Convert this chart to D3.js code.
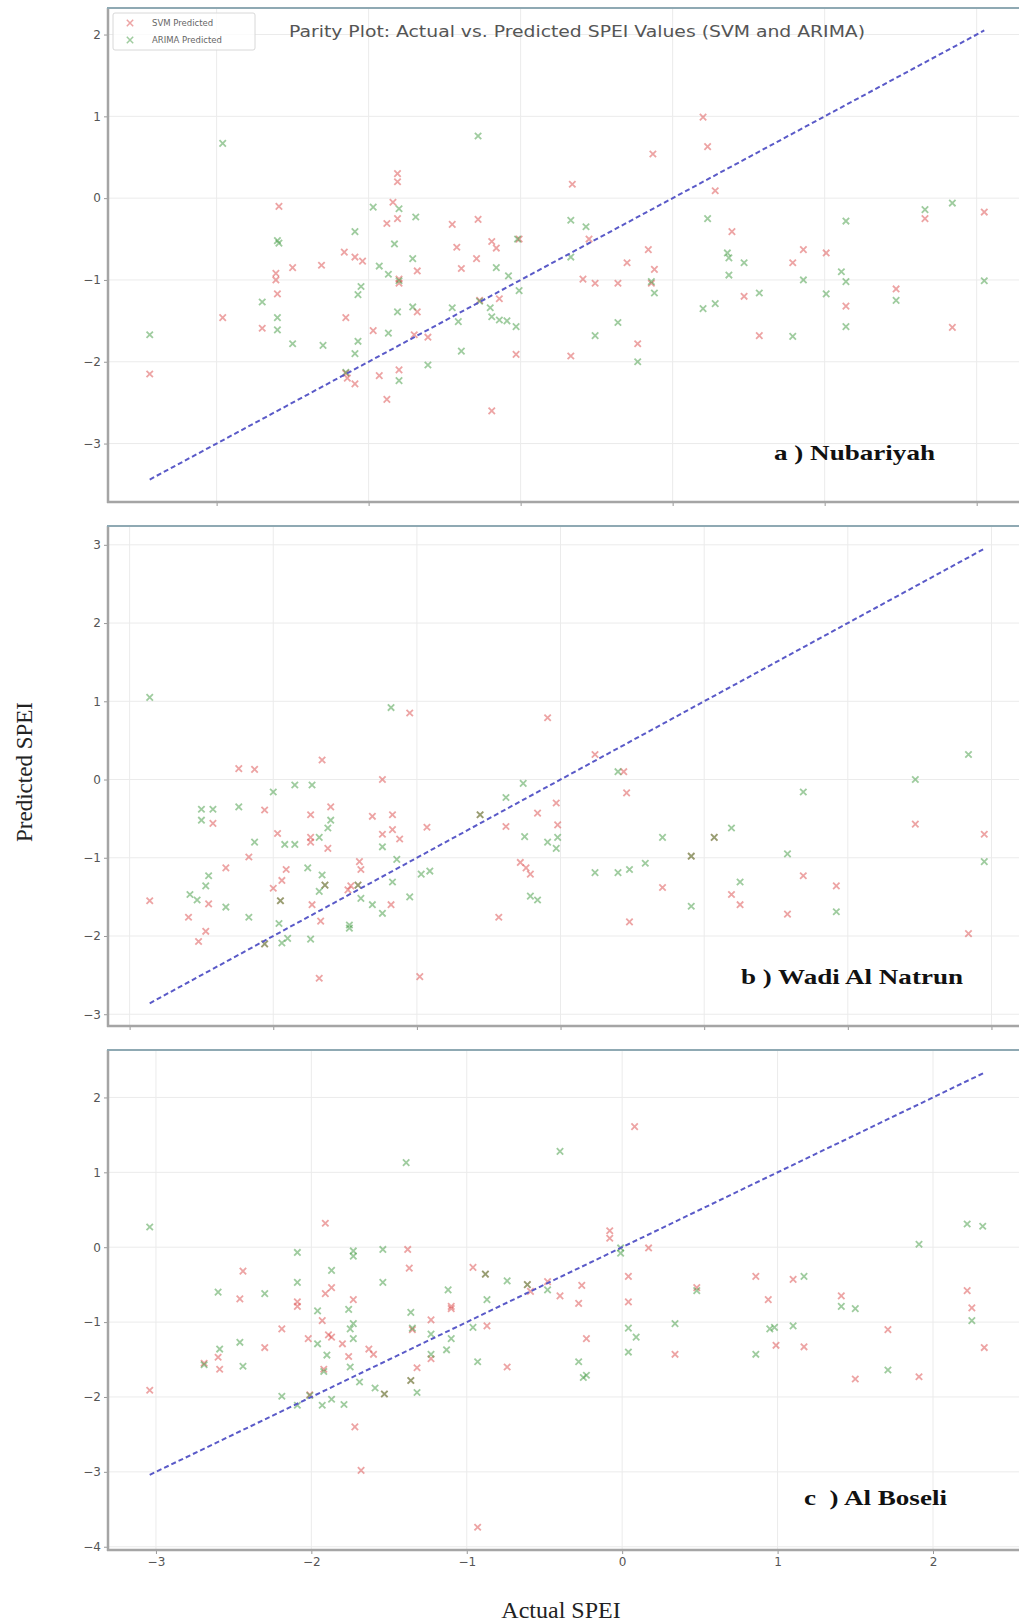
<!DOCTYPE html>
<html>
<head>
<meta charset="utf-8">
<style>
    body { margin: 0; background: #fff; }
    .tick text { font: 12px "DejaVu Sans", sans-serif; fill: #555; }
    .tick line { stroke: #999; }
    .grid line { stroke: #ebebeb; stroke-width: 1; }
    .title { font: 16px "DejaVu Sans", sans-serif; fill: #555; }
    .legend text { font: 8.5px "DejaVu Sans", sans-serif; fill: #666; }
    .station { font: bold 22px "Liberation Serif", "Times New Roman", serif; fill: #111; white-space: pre; }
    .axis-title { font: 23px "Liberation Serif", "Times New Roman", serif; fill: #222; }
</style>
<script src="https://d3js.org/d3.v7.min.js"></script>
</head>
<body>
<script>

// [actual SPEI, predicted SPEI]
var svmNub = [[-3.44,-2.15],[-2.96,-1.46],[-2.70,-1.59],[-2.59,-0.10],[-2.61,-0.92],[-2.61,-1.00],[-2.60,-1.17],[-2.50,-0.85],[-2.31,-0.82],[-2.16,-0.66],[-2.15,-1.46],[-2.15,-2.14],[-2.14,-2.20],[-2.09,-0.72],[-2.09,-2.27],[-2.04,-0.77],[-1.97,-1.62],[-1.93,-2.17],[-1.88,-0.31],[-1.88,-2.46],[-1.84,-0.05],[-1.81,0.30],[-1.81,0.20],[-1.81,-0.25],[-1.80,-0.99],[-1.80,-1.04],[-1.80,-2.10],[-1.68,-0.89],[-1.68,-1.39],[-1.70,-1.67],[-1.61,-1.70],[-1.45,-0.32],[-1.42,-0.60],[-1.39,-0.86],[-1.28,-0.26],[-1.29,-0.74],[-1.27,-1.25],[-1.19,-0.53],[-1.16,-0.61],[-1.14,-1.23],[-1.19,-2.60],[-1.01,-0.50],[-1.03,-1.91],[-0.66,0.17],[-0.67,-1.93],[-0.55,-0.50],[-0.59,-0.99],[-0.51,-1.04],[-0.36,-1.04],[-0.30,-0.79],[-0.23,-1.78],[-0.16,-0.63],[-0.12,-0.87],[-0.13,0.54],[-0.14,-1.04],[0.20,0.99],[0.23,0.63],[0.28,0.09],[0.39,-0.41],[0.47,-1.20],[0.57,-1.68],[0.79,-0.79],[0.86,-0.63],[1.01,-0.67],[1.14,-1.32],[1.47,-1.11],[1.66,-0.25],[1.84,-1.58],[2.05,-0.17]];
var arimaNub = [[-3.44,-1.67],[-2.96,0.67],[-2.70,-1.27],[-2.60,-0.52],[-2.59,-0.55],[-2.60,-1.46],[-2.60,-1.61],[-2.50,-1.78],[-2.30,-1.80],[-2.15,-2.13],[-2.09,-0.41],[-2.05,-1.08],[-2.07,-1.18],[-2.07,-1.75],[-2.09,-1.90],[-1.97,-0.11],[-1.93,-0.83],[-1.87,-0.93],[-1.87,-1.65],[-1.83,-0.56],[-1.80,-0.13],[-1.81,-1.39],[-1.80,-2.23],[-1.80,-1.01],[-1.69,-0.23],[-1.71,-0.74],[-1.71,-1.33],[-1.61,-2.04],[-1.45,-1.34],[-1.41,-1.51],[-1.39,-1.87],[-1.28,0.76],[-1.27,-1.26],[-1.16,-0.85],[-1.20,-1.34],[-1.19,-1.45],[-1.14,-1.49],[-1.08,-0.95],[-1.09,-1.50],[-1.02,-0.50],[-1.01,-1.13],[-1.03,-1.57],[-0.67,-0.27],[-0.67,-0.72],[-0.57,-0.35],[-0.51,-1.68],[-0.36,-1.52],[-0.23,-2.00],[-0.12,-1.16],[-0.14,-1.02],[0.20,-1.35],[0.23,-0.25],[0.28,-1.29],[0.36,-0.67],[0.37,-0.73],[0.37,-0.94],[0.47,-0.79],[0.57,-1.16],[0.79,-1.69],[0.86,-1.00],[1.01,-1.17],[1.14,-0.28],[1.11,-0.90],[1.14,-1.02],[1.14,-1.57],[1.47,-1.25],[1.66,-0.14],[1.84,-0.06],[2.05,-1.01]];

var svmWadi = [[-2.86,-1.55],[-2.59,-1.76],[-2.52,-2.07],[-2.47,-1.94],[-2.45,-1.59],[-2.42,-0.56],[-2.33,-1.13],[-2.24,0.14],[-2.13,0.13],[-2.17,-0.99],[-2.06,-0.39],[-2.06,-2.10],[-2.00,-1.39],[-1.97,-0.69],[-1.94,-1.29],[-1.91,-1.15],[-1.95,-1.55],[-1.74,-0.45],[-1.74,-0.74],[-1.74,-0.80],[-1.73,-1.60],[-1.68,-2.54],[-1.67,-1.81],[-1.66,0.25],[-1.64,-1.35],[-1.62,-0.88],[-1.60,-0.35],[-1.48,-1.41],[-1.46,-1.36],[-1.41,-1.35],[-1.40,-1.05],[-1.39,-1.15],[-1.31,-0.47],[-1.24,0.00],[-1.24,-0.70],[-1.18,-1.60],[-1.17,-0.45],[-1.17,-0.64],[-1.12,-0.76],[-1.05,0.85],[-0.98,-2.52],[-0.93,-0.61],[-0.56,-0.45],[-0.43,-1.76],[-0.38,-0.60],[-0.28,-1.06],[-0.24,-1.13],[-0.21,-1.21],[-0.16,-0.43],[-0.09,0.79],[-0.03,-0.30],[-0.02,-0.58],[0.24,0.32],[0.44,0.10],[0.46,-0.17],[0.48,-1.82],[0.71,-1.38],[0.91,-0.98],[1.07,-0.74],[1.19,-1.47],[1.25,-1.60],[1.58,-1.72],[1.69,-1.23],[1.92,-1.36],[2.47,-0.57],[2.84,-1.97],[2.95,-0.70]];
var arimaWadi = [[-2.86,1.05],[-2.58,-1.47],[-2.53,-1.54],[-2.50,-0.38],[-2.50,-0.52],[-2.42,-0.38],[-2.45,-1.23],[-2.47,-1.36],[-2.33,-1.63],[-2.24,-0.35],[-2.17,-1.76],[-2.13,-0.80],[-2.06,-2.10],[-2.00,-0.16],[-1.96,-1.84],[-1.95,-1.55],[-1.94,-2.09],[-1.92,-0.83],[-1.90,-2.03],[-1.85,-0.07],[-1.85,-0.83],[-1.76,-1.13],[-1.74,-2.04],[-1.73,-0.07],[-1.68,-0.74],[-1.68,-1.43],[-1.66,-1.22],[-1.64,-1.35],[-1.62,-0.62],[-1.60,-0.52],[-1.47,-1.86],[-1.47,-1.90],[-1.41,-1.35],[-1.39,-1.52],[-1.31,-1.60],[-1.24,-0.86],[-1.24,-1.71],[-1.18,0.92],[-1.17,-1.31],[-1.14,-1.02],[-1.05,-1.50],[-0.97,-1.21],[-0.91,-1.17],[-0.56,-0.45],[-0.38,-0.23],[-0.26,-0.05],[-0.25,-0.73],[-0.21,-1.49],[-0.16,-1.54],[-0.09,-0.80],[-0.03,-0.88],[-0.02,-0.74],[0.24,-1.19],[0.40,0.10],[0.40,-1.19],[0.48,-1.15],[0.59,-1.07],[0.71,-0.74],[0.91,-0.98],[0.91,-1.62],[1.07,-0.74],[1.19,-0.62],[1.25,-1.31],[1.58,-0.95],[1.69,-0.16],[1.92,-1.69],[2.47,0.00],[2.84,0.32],[2.95,-1.05]];

var svmBoseli = [[-3.04,-1.91],[-2.69,-1.55],[-2.60,-1.47],[-2.59,-1.63],[-2.46,-0.69],[-2.44,-0.32],[-2.30,-1.34],[-2.19,-1.09],[-2.09,-0.73],[-2.09,-0.79],[-2.02,-1.22],[-2.01,-1.97],[-1.93,-0.98],[-1.91,0.32],[-1.91,-0.62],[-1.87,-0.54],[-1.89,-1.17],[-1.87,-1.20],[-1.92,-1.63],[-1.80,-1.29],[-1.76,-1.46],[-1.73,-0.70],[-1.72,-2.40],[-1.68,-2.98],[-1.60,-1.43],[-1.63,-1.36],[-1.53,-1.96],[-1.38,-0.03],[-1.37,-0.28],[-1.36,-1.78],[-1.35,-1.10],[-1.32,-1.61],[-1.23,-0.97],[-1.23,-1.49],[-1.10,-0.79],[-1.10,-0.82],[-0.96,-0.27],[-0.93,-3.74],[-0.88,-0.36],[-0.87,-1.05],[-0.74,-1.60],[-0.61,-0.50],[-0.59,-0.59],[-0.48,-0.46],[-0.40,-0.65],[-0.26,-0.51],[-0.28,-0.75],[-0.23,-1.22],[-0.08,0.22],[-0.08,0.12],[0.04,-0.39],[0.04,-0.73],[0.08,1.61],[0.17,-0.01],[0.34,-1.43],[0.48,-0.54],[0.86,-0.39],[0.94,-0.70],[0.99,-1.31],[1.10,-0.43],[1.17,-1.33],[1.41,-0.65],[1.50,-1.76],[1.71,-1.10],[1.91,-1.73],[2.22,-0.58],[2.25,-0.81],[2.33,-1.34]];
var arimaBoseli = [[-3.04,0.27],[-2.69,-1.57],[-2.60,-0.60],[-2.59,-1.36],[-2.46,-1.27],[-2.44,-1.59],[-2.30,-0.62],[-2.19,-1.99],[-2.09,-0.07],[-2.09,-0.47],[-2.09,-2.11],[-2.01,-1.98],[-1.96,-0.85],[-1.96,-1.29],[-1.93,-2.11],[-1.92,-1.66],[-1.90,-1.44],[-1.87,-0.31],[-1.87,-2.03],[-1.79,-2.10],[-1.76,-0.83],[-1.75,-1.09],[-1.73,-1.02],[-1.73,-1.22],[-1.73,-0.05],[-1.73,-0.12],[-1.75,-1.60],[-1.69,-1.80],[-1.59,-1.88],[-1.54,-0.03],[-1.54,-0.47],[-1.53,-1.96],[-1.39,1.13],[-1.36,-0.87],[-1.35,-1.08],[-1.36,-1.78],[-1.32,-1.94],[-1.23,-1.16],[-1.23,-1.43],[-1.13,-1.37],[-1.12,-0.57],[-1.10,-1.22],[-0.96,-1.07],[-0.93,-1.53],[-0.88,-0.36],[-0.87,-0.70],[-0.74,-0.45],[-0.61,-0.50],[-0.48,-0.57],[-0.40,1.28],[-0.28,-1.53],[-0.25,-1.74],[-0.23,-1.71],[-0.01,-0.01],[-0.01,-0.08],[0.04,-1.08],[0.09,-1.20],[0.04,-1.40],[0.34,-1.02],[0.48,-0.58],[0.86,-1.43],[0.95,-1.09],[0.98,-1.07],[1.10,-1.05],[1.17,-0.39],[1.41,-0.79],[1.50,-0.82],[1.71,-1.64],[1.91,0.04],[2.22,0.31],[2.32,0.28],[2.25,-0.98]];

var stations = ["a ) Nubariyah", "b ) Wadi Al Natrun", "c  ) Al Boseli"];
var seriesNames = ["SVM Predicted", "ARIMA Predicted"];
var xTicksNub = [-3, -2, -1, 0, 1, 2];
var yTicksNub = [-3, -2, -1, 0, 1, 2];
var xTicksWadi = [-3, -2, -1, 0, 1, 2, 3];
var yTicksWadi = [-3, -2, -1, 0, 1, 2, 3];
var xTicksBoseli = [-3, -2, -1, 0, 1, 2];
var yTicksBoseli = [-4, -3, -2, -1, 0, 1, 2];

var W = 1019, H = 1624;
var colors = ["#dc4a4a", "#3f993f"];

var svg = d3.select("body").append("svg")
    .attr("width", W).attr("height", H);

// layout of the three panels (pixels)
var layout = [
    { top: 8,    bottom: 502,  labelX: 774, labelY: 460,  labelW: 161, showX: false },
    { top: 526,  bottom: 1026, labelX: 741, labelY: 984,  labelW: 222, showX: false },
    { top: 1050, bottom: 1550, labelX: 804, labelY: 1505, labelW: 143, showX: true }
];
var left = 108, right = 1026;

var panels = [
    { svm: svmNub,    arima: arimaNub,    xt: xTicksNub,    yt: yTicksNub },
    { svm: svmWadi,   arima: arimaWadi,   xt: xTicksWadi,   yt: yTicksWadi },
    { svm: svmBoseli, arima: arimaBoseli, xt: xTicksBoseli, yt: yTicksBoseli }
];

var cross = "M-3.2,-3.2L3.2,3.2M-3.2,3.2L3.2,-3.2";

function pad(ext) {
    var m = (ext[1] - ext[0]) * 0.05;
    return [ext[0] - m, ext[1] + m];
}

panels.forEach(function(p, i) {
    var L = layout[i];
    var all = p.svm.concat(p.arima);
    var xExt = d3.extent(all, function(d) { return d[0]; });
    var yExt = d3.extent(all.map(function(d) { return d[1]; }).concat(xExt));

    var x = d3.scaleLinear().domain(pad(xExt)).range([left, right]);
    var y = d3.scaleLinear().domain(pad(yExt)).range([L.bottom, L.top]);

    var g = svg.append("g");

    g.append("clipPath").attr("id", "clip" + i)
        .append("rect")
        .attr("x", left).attr("y", L.top)
        .attr("width", right - left).attr("height", L.bottom - L.top);

    // grid
    var grid = g.append("g").attr("class", "grid");
    grid.selectAll(".gx").data(p.xt).enter().append("line")
        .attr("x1", function(d) { return x(d); }).attr("x2", function(d) { return x(d); })
        .attr("y1", L.top).attr("y2", L.bottom);
    grid.selectAll(".gy").data(p.yt).enter().append("line")
        .attr("x1", left).attr("x2", right)
        .attr("y1", function(d) { return y(d); }).attr("y2", function(d) { return y(d); });

    var plot = g.append("g").attr("clip-path", "url(#clip" + i + ")");

    [p.svm, p.arima].forEach(function(s, k) {
        plot.selectAll(".m" + k).data(s).enter().append("path")
            .attr("d", cross)
            .attr("transform", function(d) { return "translate(" + x(d[0]) + "," + y(d[1]) + ")"; })
            .attr("fill", "none")
            .attr("stroke", colors[k])
            .attr("stroke-width", 1.8)
            .attr("stroke-opacity", 0.5);
    });

    // parity line y = x
    plot.append("line")
        .attr("x1", x(xExt[0])).attr("y1", y(xExt[0]))
        .attr("x2", x(xExt[1])).attr("y2", y(xExt[1]))
        .attr("stroke", "#5a5ac8")
        .attr("stroke-width", 2)
        .attr("stroke-dasharray", "5,3");

    // axes
    var yAxis = d3.axisLeft(y).tickValues(p.yt).tickSize(4).tickPadding(3).tickFormat(d3.format("d"));
    g.append("g").attr("transform", "translate(" + left + ",0)").call(yAxis)
        .call(function(a) { a.select(".domain").remove(); });

    var xAxis = d3.axisBottom(x).tickValues(p.xt).tickSize(4).tickPadding(3).tickFormat(d3.format("d"));
    var xa = g.append("g").attr("transform", "translate(0," + L.bottom + ")").call(xAxis)
        .call(function(a) { a.select(".domain").remove(); });
    if (!L.showX) xa.selectAll("text").remove();

    // spines
    g.append("line").attr("x1", left).attr("x2", left).attr("y1", L.top).attr("y2", L.bottom + 1)
        .attr("stroke", "#a5a5a5").attr("stroke-width", 2.5);
    g.append("line").attr("x1", left - 1).attr("x2", W).attr("y1", L.bottom).attr("y2", L.bottom)
        .attr("stroke", "#a5a5a5").attr("stroke-width", 2.5);
    g.append("line").attr("x1", left - 1).attr("x2", W).attr("y1", L.top).attr("y2", L.top)
        .attr("stroke", "#8fa9b3").attr("stroke-width", 2.2);

    g.append("text").attr("class", "station")
        .attr("x", L.labelX).attr("y", L.labelY)
        .attr("textLength", L.labelW).attr("lengthAdjust", "spacingAndGlyphs")
        .text(stations[i]);
});

// title and legend of the top panel
svg.append("text").attr("class", "title")
    .attr("x", 289).attr("y", 37)
    .attr("textLength", 576).attr("lengthAdjust", "spacingAndGlyphs")
    .text("Parity Plot: Actual vs. Predicted SPEI Values (SVM and ARIMA)");

var lg = svg.append("g").attr("class", "legend");
lg.append("rect").attr("x", 113).attr("y", 13).attr("width", 142).attr("height", 37)
    .attr("fill", "#fff").attr("fill-opacity", 0.8).attr("stroke", "#d8d8d8").attr("rx", 2);
seriesNames.forEach(function(n, k) {
    var yy = 23 + k * 17;
    lg.append("path").attr("d", cross)
        .attr("transform", "translate(130," + yy + ")")
        .attr("fill", "none").attr("stroke", colors[k])
        .attr("stroke-width", 1.5).attr("stroke-opacity", 0.5);
    lg.append("text").attr("x", 152).attr("y", yy + 3).text(n);
});

// axis titles
svg.append("text").attr("class", "axis-title")
    .attr("transform", "translate(32,772) rotate(-90)")
    .attr("text-anchor", "middle")
    .text("Predicted SPEI");
svg.append("text").attr("class", "axis-title")
    .attr("x", 561).attr("y", 1618)
    .attr("text-anchor", "middle")
    .style("font-size", "24px")
    .text("Actual SPEI");

</script>
</body>
</html>
